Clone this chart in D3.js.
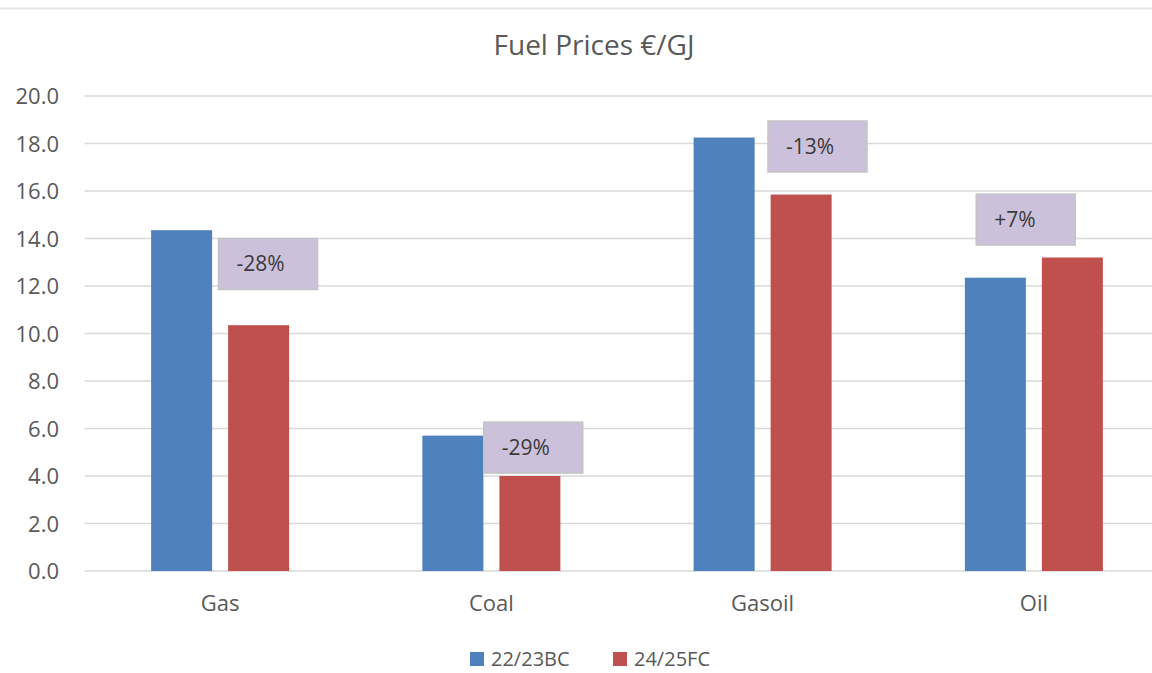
<!DOCTYPE html>
<html>
<head>
<meta charset="UTF-8">
<script src="https://d3js.org/d3.v7.min.js"></script>
<style>
  body { margin: 0; background: #fff; overflow: hidden; }
  svg { display: block; font-family: "Open Sans", sans-serif; }
</style>
</head>
<body>
<svg id="chart" width="1152" height="673"></svg>
<script>
// data
const categories = ["Gas", "Coal", "Gasoil", "Oil"];
const seriesNames = ["22/23BC", "24/25FC"];
const bc2223 = [14.35, 5.7, 18.25, 12.35];
const fc2425 = [10.35, 4.0, 15.85, 13.2];
const yTicks = [0, 2, 4, 6, 8, 10, 12, 14, 16, 18, 20];
// change call-outs: text and top of box (in €/GJ)
const changeLabels = ["-28%", "-29%", "-13%", "+7%"];
const changeTop = [14.0, 6.27, 18.95, 15.87];

const colors = ["#4f81bd", "#c0504d"];
const boxDx = [134, 128, 141, 78]; // manual placement within each band

const svg = d3.select("#chart");
const width = 1152, height = 673;
const margin = { left: 84.5, right: -17.5, top: 96, bottom: 102 };

// top border of chart area
svg.append("line")
  .attr("x1", 0).attr("x2", width).attr("y1", 8.5).attr("y2", 8.5)
  .attr("stroke", "#e6e6e6").attr("stroke-width", 2);

const x = d3.scaleBand()
  .domain(categories)
  .range([margin.left, width - margin.right]);

const y = d3.scaleLinear()
  .domain([0, 20])
  .range([height - margin.bottom, margin.top]);

const barW = 61, gap = 16;
const groupPad = (x.bandwidth() - (2 * barW + gap)) / 2;

// gridlines
svg.append("g").selectAll("line")
  .data(yTicks).enter().append("line")
  .attr("x1", margin.left).attr("x2", width)
  .attr("y1", d => y(d)).attr("y2", d => y(d))
  .attr("stroke", "#d9d9d9").attr("stroke-width", 1.5);

// y axis labels
const yAxis = d3.axisLeft(y).tickValues(yTicks).tickFormat(d3.format(".1f")).tickSize(0).tickPadding(0);
svg.append("g")
  .attr("transform", `translate(59,0)`)
  .call(yAxis)
  .call(g => g.select(".domain").remove())
  .call(g => g.selectAll("text")
    .attr("fill", "#595959").attr("font-size", 22).attr("dy", "0.35em")
    .style("font-family", "'Open Sans', sans-serif"));

// bars
const series = [bc2223, fc2425];
series.forEach((vals, s) => {
  svg.append("g").selectAll("rect")
    .data(categories).enter().append("rect")
    .attr("x", d => x(d) + groupPad + s * (barW + gap))
    .attr("width", barW)
    .attr("y", (d, i) => y(vals[i]))
    .attr("height", (d, i) => y(0) - y(vals[i]))
    .attr("fill", colors[s]);
});

// x axis labels
const xAxis = d3.axisBottom(x).tickSize(0).tickPadding(0);
svg.append("g")
  .attr("transform", `translate(0,${y(0) + 24})`)
  .call(xAxis)
  .call(g => g.select(".domain").remove())
  .call(g => g.selectAll("text")
    .attr("fill", "#595959").attr("font-size", 22)
    .style("font-family", "'Open Sans', sans-serif"));

// change call-outs
const boxW = 99, boxH = 51;
const boxes = svg.append("g").selectAll("g")
  .data(categories).enter().append("g")
  .attr("transform", (d, i) => `translate(${x(d) + boxDx[i]},${y(changeTop[i])})`);
boxes.append("rect")
  .attr("width", boxW).attr("height", boxH)
  .attr("fill", "#ccc1da").attr("stroke", "#c4c4c4").attr("stroke-width", 1.5);
boxes.append("text")
  .attr("x", 18).attr("y", boxH / 2).attr("dy", "0.35em")
  .attr("fill", "#3a3a3a").attr("font-size", 21)
  .style("font-family", "'Open Sans', sans-serif")
  .text((d, i) => changeLabels[i]);

// title
svg.append("text")
  .attr("x", 594).attr("y", 55)
  .attr("text-anchor", "middle")
  .attr("fill", "#595959").attr("font-size", 28)
  .style("font-family", "'Open Sans', sans-serif")
  .text("Fuel Prices €/GJ");

// legend
const legendX = [470, 613];
const legend = svg.append("g").selectAll("g")
  .data(seriesNames).enter().append("g")
  .attr("transform", (d, i) => `translate(${legendX[i]},652)`);
legend.append("rect").attr("width", 14).attr("height", 14).attr("fill", (d, i) => colors[i]);
legend.append("text")
  .attr("x", 21).attr("y", 7).attr("dy", "0.35em")
  .attr("fill", "#595959").attr("font-size", 20)
  .style("font-family", "'Open Sans', sans-serif")
  .text(d => d);
</script>
</body>
</html>
